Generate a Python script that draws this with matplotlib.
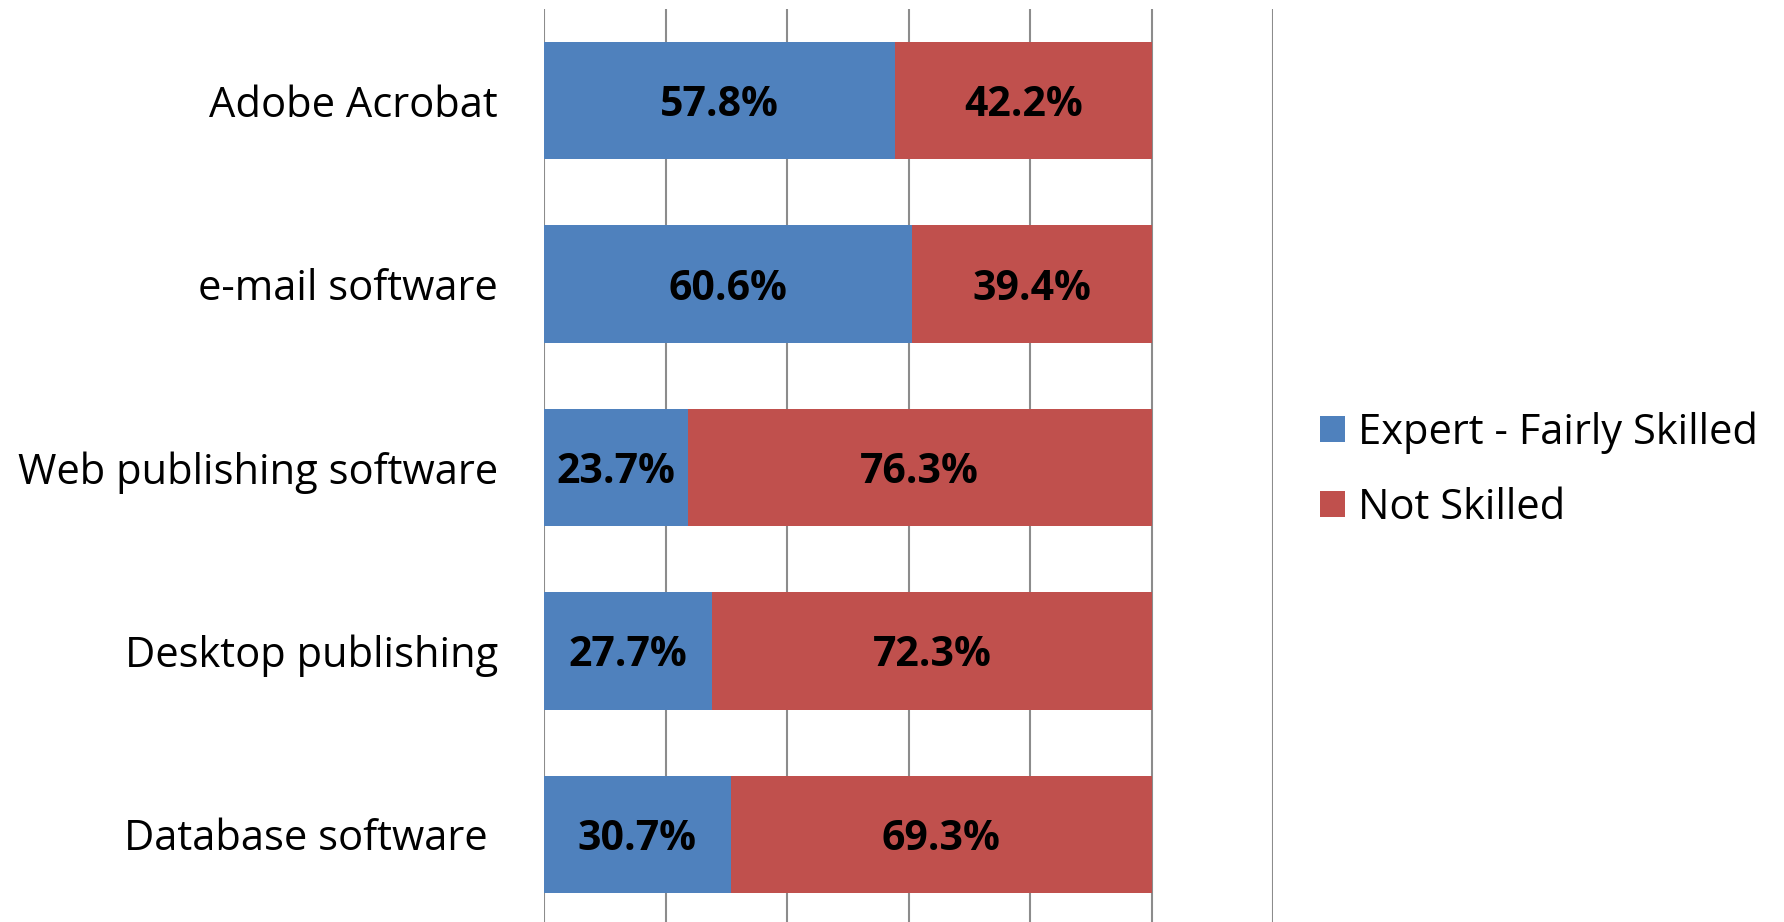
import numpy as np
import matplotlib.pyplot as plt
from matplotlib.patches import Patch

# data
categories = ["Adobe Acrobat", "e-mail software", "Web publishing software",
              "Desktop publishing", "Database software "]
expert = [57.8, 60.6, 23.7, 27.7, 30.7]
not_skilled = [42.2, 39.4, 76.3, 72.3, 69.3]
series_names = ["Expert - Fairly Skilled", "Not Skilled"]
colors = ["#4F81BD", "#C0504D"]

plt.rcParams['font.family'] = ['Open Sans', 'DejaVu Sans']

W, H = 1784, 922
fig = plt.figure(figsize=(W / 100, H / 100), dpi=100, facecolor='w')
ax = fig.add_axes([544 / W, 0, (1273 - 544) / W, (H - 9) / H])

y = np.arange(len(categories))
ax.barh(y, expert, height=0.64, color=colors[0], zorder=3)
ax.barh(y, not_skilled, left=expert, height=0.64, color=colors[1], zorder=3)

for i in range(len(categories)):
    ax.text(expert[i] / 2, y[i], "%.1f%%" % expert[i], ha='center',
            va='center_baseline', fontsize=29.5, fontweight='bold',
            color='black', zorder=4)
    ax.text(expert[i] + not_skilled[i] / 2, y[i], "%.1f%%" % not_skilled[i],
            ha='center', va='center_baseline', fontsize=29.5,
            fontweight='bold', color='black', zorder=4)

ax.set_xlim(0, 120)
ax.set_ylim(4.478, -0.5)
ax.set_xticks(np.arange(0, 121, 20))
ax.xaxis.grid(True, color='#8c8c8c', linewidth=1.5, zorder=0)
ax.tick_params(axis='x', length=0, labelbottom=False)
ax.tick_params(axis='y', length=0, pad=33)
ax.set_yticks(y)
ax.set_yticklabels(categories, fontsize=30)
for s in ax.spines.values():
    s.set_visible(False)

handles = [Patch(facecolor=c, edgecolor='none') for c in colors]
fig.legend(handles, series_names, loc='center left',
           bbox_to_anchor=(1320 / W, 1 - 470 / H), frameon=False,
           fontsize=30, handlelength=0.6, handleheight=0.6,
           handletextpad=0.3, labelspacing=0.8, borderpad=0,
           borderaxespad=0)

fig.savefig("out.png", dpi=100, facecolor='w')
